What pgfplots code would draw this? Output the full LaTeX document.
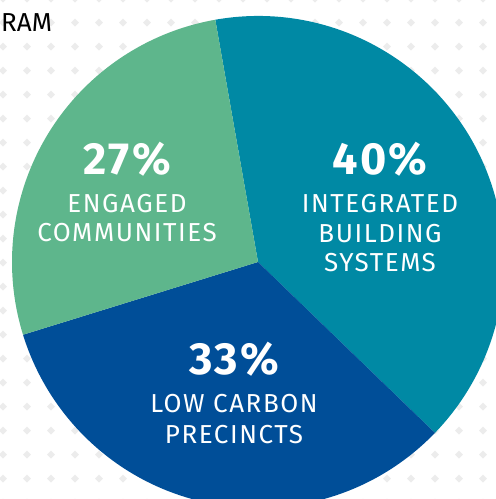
\documentclass[border=0pt]{standalone}
\usepackage{pgfplots}
\pgfplotsset{compat=1.18}
\usepackage{pgfplotstable}
\usepackage{fontspec}
\setmainfont{Fira Sans}
\newfontfamily\lblfont[LetterSpace=6]{Fira Sans}
\newfontfamily\pctfont[LetterSpace=5]{Fira Sans}
\definecolor{cteal}{RGB}{0,137,164}
\definecolor{cblue}{RGB}{0,78,152}
\definecolor{cgreen}{RGB}{94,182,140}
\definecolor{cdot}{RGB}{236,236,236}
% pie shares (percent), drawn clockwise from 100 degrees
\pgfplotstableread{
name value
IBS 40
LCP 33
EC 27
}\piedata
\pgfplotstablegetelem{0}{value}\of\piedata \global\let\vA\pgfplotsretval
\pgfplotstablegetelem{1}{value}\of\piedata \global\let\vB\pgfplotsretval
\pgfplotstablegetelem{2}{value}\of\piedata \global\let\vC\pgfplotsretval
\pgfmathsetmacro{\aA}{100}
\pgfmathsetmacro{\aB}{\aA-3.6*\vA}
\pgfmathsetmacro{\aC}{\aB-3.6*\vB}
\pgfmathsetmacro{\aD}{\aC-3.6*\vC}
\begin{document}
\begin{tikzpicture}
\path[use as bounding box] (0,0) rectangle (496pt,499pt);
% background dot grid (decoration)
\begin{scope}
\clip (0,0) rectangle (496pt,499pt);
\foreach \i in {0,...,20}{
  \foreach \j in {0,...,21}{
    \fill[cdot] (3pt+24pt*\i,500.3pt-24pt*\j) ++(-4pt,0) -- ++(4pt,4pt) -- ++(4pt,-4pt) -- ++(-4pt,-4pt) -- cycle;
  }
}
\end{scope}
\begin{axis}[
  at={(0,0)}, anchor=south west,
  width=496pt, height=499pt, scale only axis,
  xmin=0, xmax=496, ymin=0, ymax=499,
  hide axis, clip=true,
]
% pie slices
\fill[cteal] (axis cs:258,237) -- ++(\aA:246pt) arc[start angle=\aA, end angle=\aB, radius=246pt] -- cycle;
\fill[cblue] (axis cs:258,237) -- ++(\aB:246pt) arc[start angle=\aB, end angle=\aC, radius=246pt] -- cycle;
\fill[cgreen] (axis cs:258,237) -- ++(\aC:246pt) arc[start angle=\aC, end angle=\aD, radius=246pt] -- cycle;
% labels
\node[anchor=base west, font=\fontsize{26}{30}\selectfont, text=black, inner sep=0] at (axis cs:1,467) {RAM};
\node[anchor=base, inner sep=0, text=white, font=\pctfont\fontsize{45}{50}\selectfont\bfseries] at (axis cs:127,324) {27\%};
\node[anchor=base, inner sep=0, text=white, font=\lblfont\fontsize{26}{30}\selectfont] at (axis cs:127,286) {ENGAGED};
\node[anchor=base, inner sep=0, text=white, font=\lblfont\fontsize{26}{30}\selectfont] at (axis cs:127,257) {COMMUNITIES};
\node[anchor=base, inner sep=0, text=white, font=\pctfont\fontsize{45}{50}\selectfont\bfseries] at (axis cs:380,324) {40\%};
\node[anchor=base, inner sep=0, text=white, font=\lblfont\fontsize{26}{30}\selectfont] at (axis cs:380,286) {INTEGRATED};
\node[anchor=base, inner sep=0, text=white, font=\lblfont\fontsize{26}{30}\selectfont] at (axis cs:380,256) {BUILDING};
\node[anchor=base, inner sep=0, text=white, font=\lblfont\fontsize{26}{30}\selectfont] at (axis cs:380,227) {SYSTEMS};
\node[anchor=base, inner sep=0, text=white, font=\pctfont\fontsize{45}{50}\selectfont\bfseries] at (axis cs:234,124) {33\%};
\node[anchor=base, inner sep=0, text=white, font=\lblfont\fontsize{26}{30}\selectfont] at (axis cs:234,86) {LOW CARBON};
\node[anchor=base, inner sep=0, text=white, font=\lblfont\fontsize{26}{30}\selectfont] at (axis cs:234,56) {PRECINCTS};
\end{axis}
\end{tikzpicture}
\end{document}
